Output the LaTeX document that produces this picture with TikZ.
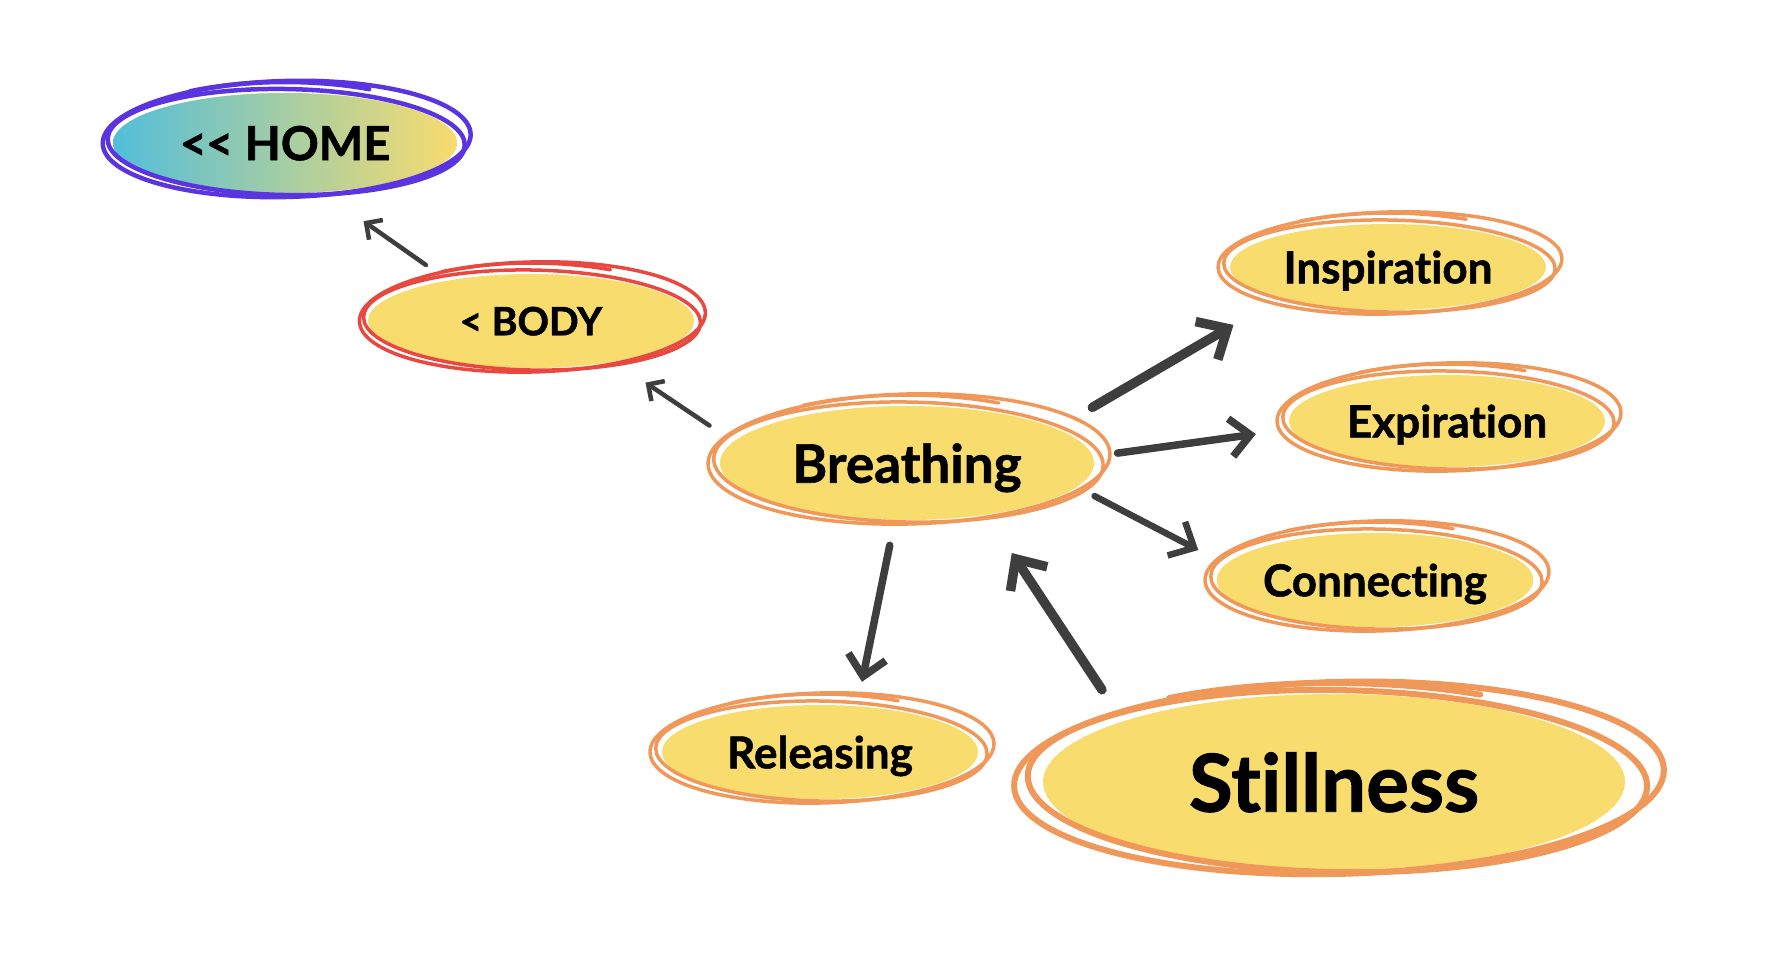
\documentclass[tikz,border=0pt]{standalone}
\usepackage{fontspec}
\setmainfont{Lato}[Ligatures=NoCommon, BoldFeatures={FakeBold=1.2}]
\usetikzlibrary{shapes.geometric, arrows.meta}

\definecolor{bubbleyellow}{HTML}{F8DC6E}
\definecolor{homecyan}{HTML}{52BEDA}
\definecolor{scribbleorange}{HTML}{F0985A}
\definecolor{bodyred}{HTML}{E8483F}
\definecolor{homeviolet}{HTML}{5A35DF}
\definecolor{arrowgray}{HTML}{3E3E3E}

% hand drawn loops round a bubble: node, x radius, y radius, colour, extra width, line width
\newcommand{\scribble}[6]{%
  \begin{scope}[shift={(#1.center)}, color=#4, line width=#6, line cap=round]
    \draw[rotate=1.5] ({0.15*#5},4) ellipse ({#2+#5} and {#3+8});
    \draw[rotate=-1] ({0.1*#5},1) ellipse ({#2+0.55*#5} and {#3+3});
    \draw (122:{#2+0.6*#5} and {#3+11}) arc[start angle=122, end angle=62, x radius={#2+0.6*#5}, y radius={#3+11}];
  \end{scope}}

\begin{document}
\begin{tikzpicture}[x=1pt, y=1pt,
    % Styles
    bubble/.style={% For the yellow ellipses
        ellipse,
        fill=bubbleyellow,
        inner sep=0pt,
        outer sep=0pt,
        text depth=0pt,
        },
    smalltext/.style={% For the outer words
        font=\fontsize{44}{52}\selectfont\bfseries,
        },
    ArrowBig/.style={% Thick arrows
        draw=arrowgray,
        line width=9.5pt,
        line cap=round,
        line join=round,
        -{Straight Barb[length=24pt, width=44pt]},
        },
    ArrowMid/.style={% Medium arrows
        draw=arrowgray,
        line width=7.5pt,
        line cap=round,
        line join=round,
        -{Straight Barb[length=20pt, width=38pt]},
        },
    ArrowSmall/.style={% Thin arrows to the back links
        draw=arrowgray,
        line width=4.5pt,
        line cap=round,
        line join=round,
        -{Straight Barb[length=12pt, width=24pt]},
        },
    ]

    % Page
    \fill[white] (0,0) rectangle (1772,-962);
    \useasboundingbox (0,0) rectangle (1772,-962);

    % Draw the bubbles
    % back links
    \node [bubble, minimum width=344pt, minimum height=100pt, left color=homecyan, right color=bubbleyellow,
        font=\fontsize{47}{56}\selectfont\bfseries] (home) at (285,-143) {<\kern-1pt< HOME};
    \node [bubble, minimum width=326pt, minimum height=94pt,
        font=\fontsize{39}{46}\selectfont\bfseries] (body) at (531,-321) {< BODY};
    % centre
    \node [bubble, minimum width=374pt, minimum height=114pt,
        font=\fontsize{53}{62}\selectfont\bfseries] (breathing) at (907,-463) {Breathing};
    % right column
    \node [bubble, smalltext, minimum width=316pt, minimum height=86pt] (inspiration) at (1388,-267) {Inspiration};
    \node [bubble, smalltext, minimum width=316pt, minimum height=92pt] (expiration) at (1447,-421) {Expiration};
    \node [bubble, smalltext, minimum width=316pt, minimum height=94pt] (connecting) at (1375,-580) {Connecting};
    % bottom row
    \node [bubble, smalltext, minimum width=316pt, minimum height=94pt] (releasing) at (820,-752) {Releasing};
    \node [bubble, minimum width=582pt, minimum height=176pt,
        font=\fontsize{80}{96}\selectfont\bfseries] (stillness) at (1334,-782) {Stillness};

    % Draw the loops
    \scribble{home}{172}{50}{homeviolet}{12}{4.5pt}
    \scribble{body}{163}{47}{bodyred}{10}{3.5pt}
    \scribble{breathing}{187}{57}{scribbleorange}{14}{3.5pt}
    \scribble{inspiration}{158}{43}{scribbleorange}{14}{3.5pt}
    \scribble{expiration}{158}{46}{scribbleorange}{14}{3.5pt}
    \scribble{connecting}{158}{47}{scribbleorange}{14}{3.5pt}
    \scribble{releasing}{158}{47}{scribbleorange}{14}{3.5pt}
    \scribble{stillness}{291}{88}{scribbleorange}{34}{6pt}

    % Draw Arrows
    \draw[ArrowSmall, shorten <=27pt, shorten >=51pt] (body.154) -- (home.307);
    \draw[ArrowSmall, shorten <=29pt, shorten >=38pt] (breathing.173) -- (body.334);
    \draw[ArrowBig, shorten <=42pt, shorten >=53pt] (breathing.13) -- (inspiration.196);
    \draw[ArrowMid, shorten <=25pt, shorten >=36pt] (breathing.2) -- (expiration.183);
    \draw[ArrowMid, line width=6.5pt, shorten <=20pt, shorten >=31pt] (breathing.352) -- (connecting.174);
    \draw[ArrowMid, shorten <=26pt, shorten >=25pt] (breathing.258) -- (releasing.51);
    \draw[ArrowBig, shorten <=38pt, shorten >=46pt] (stillness.164) -- (breathing.327);

\end{tikzpicture}
\end{document}
